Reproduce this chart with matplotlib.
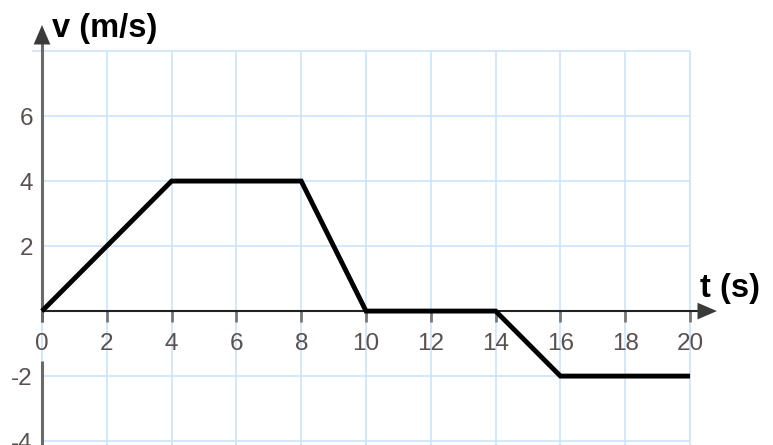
import matplotlib
matplotlib.use("Agg")
import matplotlib.pyplot as plt

# Data
t_values = [0, 4, 8, 10, 14, 16, 20]
v_values = [0, 4, 4, 0, 0, -2, -2]
x_ticks = [0, 2, 4, 6, 8, 10, 12, 14, 16, 18, 20]
y_grid = [-4, -2, 0, 2, 4, 6, 8]
y_tick_labels = [-4, -2, 2, 4, 6]

plt.rcParams['font.family'] = ['Liberation Sans', 'DejaVu Sans']

fig = plt.figure(figsize=(7.73, 4.45), dpi=100)
ax = fig.add_axes([0, 0, 1, 1])
ax.set_xlim(-1.296, 22.56)
ax.set_ylim(-4.12, 9.57)
ax.axis('off')

grid_c = '#c6e2fb'
for x in x_ticks:
    ax.plot([x, x], [-4.2, 8], color=grid_c, lw=1.1, zorder=1, solid_capstyle='butt')
for y in y_grid:
    ax.plot([-0.3 if y == 8 else 0, 20], [y, y], color=grid_c, lw=1.1, zorder=1, solid_capstyle='butt')

tick_c = '#5a5050'
# x axis
ax.plot([0, 20.25], [0, 0], color='#222222', lw=1.5, zorder=3, solid_capstyle='butt')
ax.annotate('', xy=(20.83, 0), xytext=(20.2, 0),
            arrowprops=dict(arrowstyle='-|>,head_length=1.4,head_width=0.6', color='#3a3a3a', lw=0,
                            shrinkA=0, shrinkB=0), zorder=4)
# x ticks
for x in x_ticks:
    ax.plot([x, x], [0, -0.33], color='#777777', lw=2.0, zorder=2, solid_capstyle='butt')
    ax.text(x, -1.2, str(x), ha='center', va='baseline', fontsize=17.5, color=tick_c)

# y axis (with gap around 0 label)
ax.plot([0, 0], [-0.33, 8.3], color='#6a6a6a', lw=2.2, zorder=2, solid_capstyle='butt')
ax.plot([0, 0], [-1.55, -4.2], color='#6a6a6a', lw=2.2, zorder=2, solid_capstyle='butt')
ax.annotate('', xy=(0, 8.8), xytext=(0, 8.25),
            arrowprops=dict(arrowstyle='-|>,head_length=1.4,head_width=0.6', color='#3a3a3a', lw=0,
                            shrinkA=0, shrinkB=0), zorder=4)
for y in y_tick_labels:
    ax.text(-0.28, y - 0.28, str(y), ha='right', va='baseline', fontsize=17.5, color=tick_c)

# data line
ax.plot(t_values, v_values, color='black', lw=3.5, zorder=5, solid_joinstyle='miter', solid_capstyle='butt')

# axis labels
ax.text(0.3, 8.43, 'v (m/s)', ha='left', va='baseline', fontsize=23.5, fontweight='bold', color='black')
ax.text(20.3, 0.43, 't (s)', ha='left', va='baseline', fontsize=23.5, fontweight='bold', color='black')

fig.savefig('out.png', dpi=100)
